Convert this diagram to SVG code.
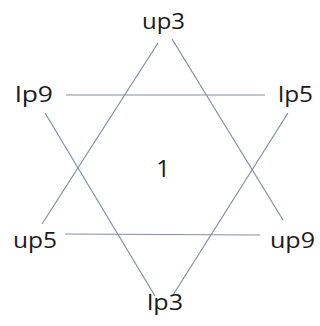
<svg xmlns="http://www.w3.org/2000/svg" width="320" height="326" viewBox="0 0 320 326">
<style>
.t{font-family:"Open Sans","Liberation Sans",sans-serif;font-size:22px;fill:#1a1a1a}
.c line{stroke:#7f8fa6;stroke-width:1.2;fill:none}
</style>
<rect width="320" height="326" fill="#fff"/>
<g class="c" id="connectors">
<line x1="158" y1="43" x2="42" y2="224"/>
<line x1="172" y1="39" x2="283" y2="220"/>
<line x1="65" y1="234" x2="260" y2="235"/>
<line x1="66" y1="95" x2="265" y2="95"/>
<line x1="45" y1="113" x2="155" y2="296"/>
<line x1="288" y1="113" x2="173" y2="295"/>
</g>
<g id="up3"><text class="t" x="142" y="29" textLength="43" lengthAdjust="spacingAndGlyphs">up3</text></g>
<g id="lp9"><text class="t" x="15" y="102" textLength="38" lengthAdjust="spacingAndGlyphs">lp9</text></g>
<g id="lp5"><text class="t" x="278" y="102" textLength="35" lengthAdjust="spacingAndGlyphs">lp5</text></g>
<g id="n1"><text class="t" x="163" y="177" text-anchor="middle" style="font-size:24px">1</text></g>
<g id="up5"><text class="t" x="13" y="248" textLength="44" lengthAdjust="spacingAndGlyphs">up5</text></g>
<g id="up9"><text class="t" x="270" y="248" textLength="45" lengthAdjust="spacingAndGlyphs">up9</text></g>
<g id="lp3"><text class="t" x="147" y="310" textLength="36" lengthAdjust="spacingAndGlyphs">lp3</text></g>
</svg>
